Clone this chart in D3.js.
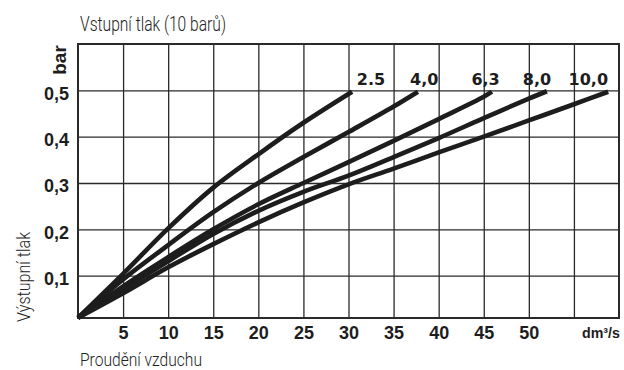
<!DOCTYPE html>
<html><head><meta charset="utf-8">
<script src="https://cdn.jsdelivr.net/npm/d3@7"></script>
<style>html,body{margin:0;padding:0;background:#fff;} svg{display:block}</style>
</head><body><svg id="c" width="624" height="370"></svg>
<script>
// ---- data ----
const flowTickLabels = [5, 10, 15, 20, 25, 30, 35, 40, 45, 50];
const flowGrid = [5, 10, 15, 20, 25, 30, 35, 40, 45, 50, 55];
const pressureTicks = [0.1, 0.2, 0.3, 0.4, 0.5];
const seriesNames = ["2.5", "4,0", "6,3", "8,0", "10,0"];
const labelFlow = [32.5, 38.4, 45.2, 50.9, 56.6];
const labelPressure = 0.512;

const flow25 = [0, 5, 10, 15, 20, 25, 30.4];
const p25    = [0.009, 0.104, 0.202, 0.290, 0.362, 0.430, 0.497];
const flow40 = [0, 5, 10, 15, 20, 25, 30, 35, 37.7];
const p40    = [0.009, 0.092, 0.166, 0.237, 0.300, 0.356, 0.410, 0.465, 0.497];
const flow63 = [0, 5, 10, 15, 20, 25, 30, 35, 40, 45, 45.9];
const p63    = [0.009, 0.077, 0.140, 0.200, 0.254, 0.300, 0.345, 0.391, 0.438, 0.486, 0.497];
const flow80 = [0, 5, 10, 15, 20, 25, 30, 35, 40, 45, 50, 52];
const p80    = [0.009, 0.071, 0.131, 0.190, 0.240, 0.281, 0.316, 0.356, 0.397, 0.440, 0.482, 0.498];
const flow100 = [0, 5, 10, 15, 20, 25, 30, 35, 40, 45, 50, 55, 58.8];
const p100    = [0.009, 0.062, 0.118, 0.168, 0.215, 0.258, 0.297, 0.331, 0.366, 0.400, 0.435, 0.470, 0.497];

const seriesFlow = [flow25, flow40, flow63, flow80, flow100];
const seriesP = [p25, p40, p63, p80, p100];

// ---- layout ----
const pl = 78, pr = 619, pt = 44, pb = 318;
const svg = d3.select("#c");
const x = d3.scaleLinear().domain([0, 60]).range([pl, pr]);
const y = d3.scaleLinear().domain([0.0086, 0.6]).range([pb, pt]);
const ink = "#1d1d1d";

// grid via axes
svg.append("g").attr("transform", `translate(0,${pb})`)
  .call(d3.axisBottom(x).tickValues(flowGrid).tickSize(-(pb - pt)).tickFormat(""))
  .call(g => g.select(".domain").remove())
  .call(g => g.selectAll("line").attr("stroke", "#2a2a2a").attr("stroke-width", 1.3));
svg.append("g").attr("transform", `translate(${pl},0)`)
  .call(d3.axisLeft(y).tickValues(pressureTicks).tickSize(-(pr - pl)).tickFormat(""))
  .call(g => g.select(".domain").remove())
  .call(g => g.selectAll("line").attr("stroke", "#2a2a2a").attr("stroke-width", 1.3));

// frame
svg.append("rect").attr("x", pl).attr("y", pt)
  .attr("width", pr - pl).attr("height", pb - pt)
  .attr("fill", "none").attr("stroke", "#2a2a2a").attr("stroke-width", 2);

// tick labels
svg.append("g").attr("transform", `translate(0,${pb})`)
  .call(d3.axisBottom(x).tickValues(flowTickLabels).tickSize(0).tickPadding(8).tickFormat(d3.format("d")))
  .call(g => g.select(".domain").remove())
  .call(g => g.selectAll("text").attr("font-family", "'Liberation Sans', Arial, sans-serif")
      .attr("font-weight", "bold").attr("font-size", 18).attr("fill", ink).attr("dy", "0.71em"));
svg.append("g").attr("transform", `translate(${pl},0)`)
  .call(d3.axisLeft(y).tickValues(pressureTicks).tickSize(0).tickPadding(9)
      .tickFormat(d => d3.format(".1f")(d).replace(".", ",")))
  .call(g => g.select(".domain").remove())
  .call(g => g.selectAll("text").attr("font-family", "'Liberation Sans', Arial, sans-serif")
      .attr("font-weight", "bold").attr("font-size", 18).attr("fill", ink).attr("dy", "0.5em"));

// curves
const line = d3.line().x(d => x(d[0])).y(d => y(d[1])).curve(d3.curveCatmullRom.alpha(0.5));
seriesFlow.forEach((fl, i) => {
  const pts = fl.map((f, j) => [f, seriesP[i][j]]);
  svg.append("path").attr("d", line(pts)).attr("fill", "none")
    .attr("stroke", ink).attr("stroke-width", 4.6).attr("stroke-linecap", "butt")
    .attr("stroke-linejoin", "round");
});

// curve labels
seriesNames.forEach((n, i) => {
  svg.append("text").attr("x", x(labelFlow[i])).attr("y", y(labelPressure))
    .attr("text-anchor", "middle").attr("font-family", "'DejaVu Sans', sans-serif")
    .attr("font-weight", "bold").attr("font-size", 16).attr("fill", ink).text(n);
});

// unit labels
svg.append("text").attr("x", 620).attr("y", 338).attr("text-anchor", "end")
  .attr("font-family", "'Liberation Sans', Arial, sans-serif").attr("font-weight", "bold")
  .attr("font-size", 15).attr("fill", ink)
  .attr("textLength", 38).attr("lengthAdjust", "spacingAndGlyphs").text("dm³/s");
svg.append("text").attr("transform", "translate(66,60) rotate(-90)").attr("text-anchor", "middle")
  .attr("font-family", "'Liberation Sans', Arial, sans-serif").attr("font-weight", "bold")
  .attr("font-size", 19).attr("fill", ink).text("bar");

// titles
const light = "Roboto, 'Liberation Sans', sans-serif";
svg.append("text").attr("x", 80).attr("y", 31).attr("font-family", light).attr("font-weight", 300)
  .attr("font-size", 20).attr("fill", "#222")
  .attr("textLength", 146).attr("lengthAdjust", "spacingAndGlyphs").text("Vstupní tlak (10 barů)");
svg.append("text").attr("x", 80).attr("y", 366).attr("font-family", light).attr("font-weight", 300)
  .attr("font-size", 19).attr("fill", "#222")
  .attr("textLength", 122).attr("lengthAdjust", "spacingAndGlyphs").text("Proudění vzduchu");
svg.append("text").attr("transform", "translate(29.5,277) rotate(-90)").attr("text-anchor", "middle")
  .attr("font-family", light).attr("font-weight", 300).attr("font-size", 18).attr("fill", "#222")
  .attr("textLength", 90).attr("lengthAdjust", "spacingAndGlyphs").text("Výstupní tlak");
</script></body></html>
